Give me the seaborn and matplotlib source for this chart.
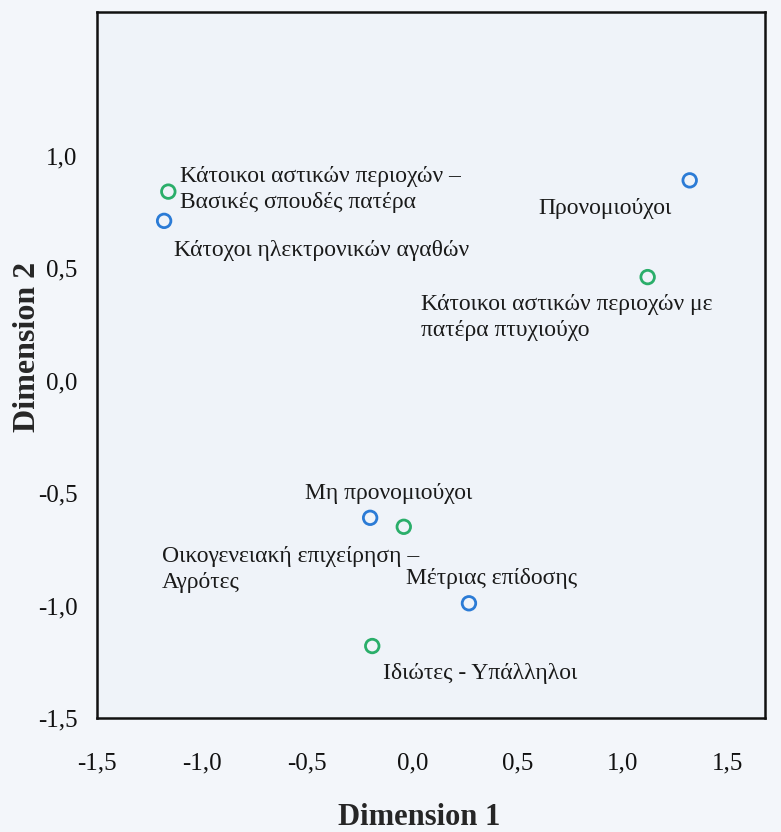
import matplotlib
matplotlib.use("Agg")
import matplotlib.pyplot as plt
import seaborn as sns
import pandas as pd
from matplotlib.ticker import FuncFormatter

# Category quantifications on the two dimensions
labels = [
    "Κάτοικοι αστικών περιοχών –\nΒασικές σπουδές πατέρα",
    "Κάτοχοι ηλεκτρονικών αγαθών",
    "Προνομιούχοι",
    "Κάτοικοι αστικών περιοχών με\nπατέρα πτυχιούχο",
    "Μη προνομιούχοι",
    "Οικογενειακή επιχείρηση –\nΑγρότες",
    "Μέτριας επίδοσης",
    "Ιδιώτες - Υπάλληλοι",
]
dim1 = [-1.16, -1.18, 1.32, 1.12, -0.20, -0.04, 0.27, -0.19]
dim2 = [0.84, 0.71, 0.89, 0.46, -0.61, -0.65, -0.99, -1.18]
variable = ["green", "blue", "blue", "green", "blue", "green", "blue", "green"]

# Label anchor positions (left edge, vertical centre) in data units
label_x = [-1.105, -1.135, 0.60, 0.04, -0.51, -1.19, -0.03, -0.14]
label_y = [0.85, 0.58, 0.765, 0.28, -0.50, -0.84, -0.88, -1.30]

xticks = [-1.5, -1.0, -0.5, 0.0, 0.5, 1.0, 1.5]
yticks = [-1.5, -1.0, -0.5, 0.0, 0.5, 1.0]

df = pd.DataFrame({"dim1": dim1, "dim2": dim2, "set": variable})

sns.set_theme(style="white")
plt.rcParams["font.family"] = ["Liberation Serif", "DejaVu Serif"]

bg = "#f3f6fa"
fig = plt.figure(figsize=(7.81, 8.32), dpi=100, facecolor=bg)
ax = fig.add_axes([0.124, 0.137, 0.856, 0.849])
ax.set_facecolor("#eff3f9")

palette = {"blue": "#2b7bd6", "green": "#2aae6a"}
sns.scatterplot(data=df, x="dim1", y="dim2", hue="set", palette=palette,
                s=95, linewidth=2.0, legend=False, ax=ax, zorder=3)
for coll in ax.collections:
    fc = coll.get_facecolors()
    coll.set_edgecolors(fc)
    coll.set_facecolors("none")

for txt, tx, ty in zip(labels, label_x, label_y):
    ax.text(tx, ty, txt, ha="left", va="center", fontsize=17,
            linespacing=1.3, color="#1a1a1a", zorder=4)

ax.set_xlim(-1.5, 1.68)
ax.set_ylim(-1.5, 1.64)
ax.set_xticks(xticks)
ax.set_yticks(yticks)
fmt = FuncFormatter(lambda v, p: f"{v:.1f}".replace(".", ","))
ax.xaxis.set_major_formatter(fmt)
ax.yaxis.set_major_formatter(fmt)
ax.tick_params(axis="both", direction="out", length=10, width=2,
               labelsize=18, colors="#111111")
ax.tick_params(axis="x", pad=15)
ax.tick_params(axis="y", pad=4)
for side in ["left", "right", "top", "bottom"]:
    ax.spines[side].set_visible(True)
    ax.spines[side].set_linewidth(1.8)
    ax.spines[side].set_color("#111111")

ax.set_xlabel("Dimension 1", fontsize=22, fontweight="bold")
ax.set_ylabel("Dimension 2", fontsize=23, fontweight="bold")
ax.xaxis.set_label_coords(0.482, -0.12)
ax.yaxis.set_label_coords(-0.082, 0.525)

fig.savefig("out.png", dpi=100, facecolor=bg)
